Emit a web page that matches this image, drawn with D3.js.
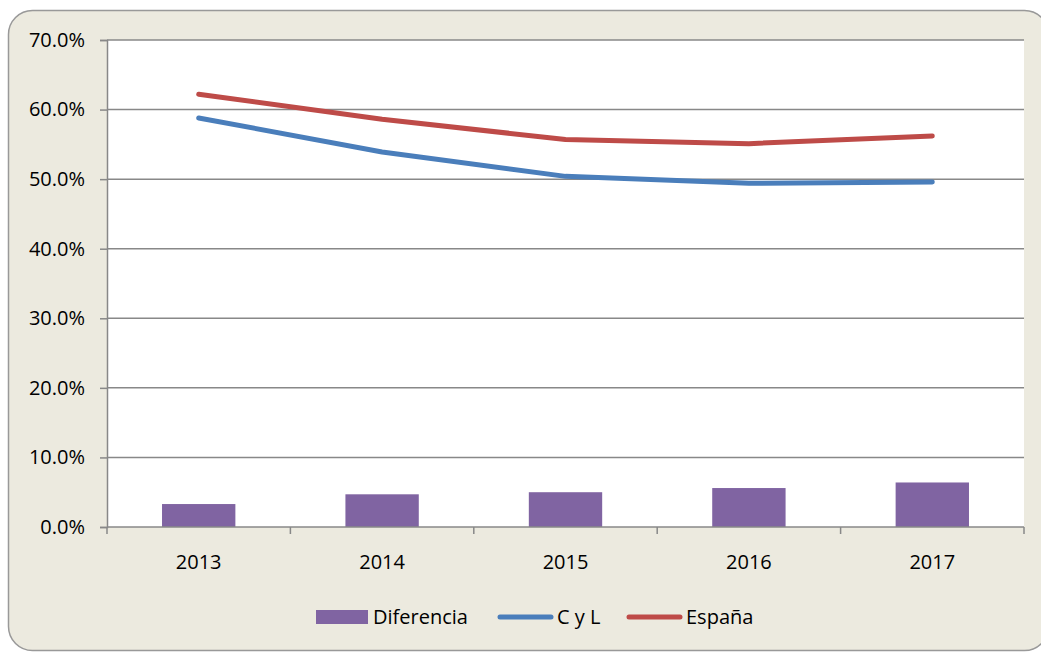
<!DOCTYPE html>
<html>
<head>
<meta charset="utf-8">
<script src="https://cdn.jsdelivr.net/npm/d3@7"></script>
<style>
    body { margin: 0; background: #fff; }
    svg text { font-family: 'Open Sans', sans-serif; font-weight: 400; fill: #000; }
</style>
</head>
<body>
<div id="chart"></div>
<script>
// data
const years = ['2013', '2014', '2015', '2016', '2017'];
const diferencia = [3.3, 4.7, 5.0, 5.6, 6.4];
const cyl = [58.8, 53.9, 50.4, 49.4, 49.6];
const espana = [62.2, 58.6, 55.7, 55.1, 56.2];
const yTicks = [0, 10, 20, 30, 40, 50, 60, 70];

const width = 1041, height = 652;
const margin = { top: 40, right: 17, bottom: 125, left: 107 };
const w = width - margin.left - margin.right;
const h = height - margin.top - margin.bottom;
const fs = '20px';

const svg = d3.select('#chart').append('svg')
    .attr('width', width)
    .attr('height', height);

// outer frame
svg.append('rect')
    .attr('x', 8.5).attr('y', 10.5)
    .attr('width', 1040).attr('height', 640)
    .attr('rx', 24)
    .attr('fill', '#ECEADF')
    .attr('stroke', '#999')
    .attr('stroke-width', 1.5);

const g = svg.append('g').attr('transform', `translate(${margin.left},${margin.top})`);

g.append('rect').attr('width', w).attr('height', h).attr('fill', '#fff');

const x = d3.scaleBand().domain(years).range([0, w]).paddingInner(0.6).paddingOuter(0.3);
const xc = d => x(d) + x.bandwidth() / 2;
const y = d3.scaleLinear().domain([0, 70]).range([h, 0]);

// gridlines
g.append('g')
    .selectAll('line')
    .data(yTicks.slice(1))
    .join('line')
    .attr('x1', 0).attr('x2', w)
    .attr('y1', d => y(d)).attr('y2', d => y(d))
    .attr('stroke', '#888')
    .attr('stroke-width', 1.5);

// y axis
const yAxis = d3.axisLeft(y).tickValues(yTicks).tickSize(7).tickPadding(15)
    .tickFormat(d => d.toFixed(1) + '%');
const ya = g.append('g').call(yAxis);
ya.attr('font-family', null).attr('font-size', null);
ya.select('.domain').attr('stroke', '#888').attr('stroke-width', 1.5);
ya.selectAll('.tick line').attr('stroke', '#888').attr('stroke-width', 1.5);
ya.selectAll('text').style('font-size', fs).attr('fill', '#000');

// bars
g.append('g')
    .selectAll('rect')
    .data(diferencia)
    .join('rect')
    .attr('x', (d, i) => x(years[i]))
    .attr('width', x.bandwidth())
    .attr('y', d => y(d))
    .attr('height', d => h - y(d))
    .attr('fill', '#8064A2');

// x axis with ticks at category boundaries
const step = w / years.length;
const xa = g.append('g').attr('transform', `translate(0,${h})`);
xa.append('line').attr('x1', 0).attr('x2', w).attr('stroke', '#888').attr('stroke-width', 1.5);
xa.selectAll('.bound')
    .data(d3.range(years.length + 1))
    .join('line')
    .attr('class', 'bound')
    .attr('x1', i => i * step).attr('x2', i => i * step)
    .attr('y1', 0).attr('y2', 7)
    .attr('stroke', '#888').attr('stroke-width', 1.5);
xa.selectAll('text')
    .data(years)
    .join('text')
    .attr('x', d => xc(d))
    .attr('y', 42)
    .attr('text-anchor', 'middle')
    .style('font-size', fs)
    .text(d => d);

// lines
const line = d3.line()
    .x((d, i) => xc(years[i]))
    .y(d => y(d));

[[cyl, '#4A7EBB'], [espana, '#BE4B48']].forEach(([vals, col]) => {
    g.append('path')
        .datum(vals)
        .attr('d', line)
        .attr('fill', 'none')
        .attr('stroke', col)
        .attr('stroke-width', 5)
        .attr('stroke-linecap', 'round')
        .attr('stroke-linejoin', 'round');
});

// legend
const legend = svg.append('g').attr('transform', 'translate(0,617)');
legend.append('rect').attr('x', 316).attr('y', -7).attr('width', 52).attr('height', 14).attr('fill', '#8064A2');
legend.append('text').attr('x', 373).attr('y', 7).style('font-size', fs).text('Diferencia');
legend.append('line').attr('x1', 500).attr('x2', 551).attr('stroke', '#4A7EBB')
    .attr('stroke-width', 5).attr('stroke-linecap', 'round');
legend.append('text').attr('x', 557).attr('y', 7).style('font-size', fs).text('C y L');
legend.append('line').attr('x1', 629).attr('x2', 680).attr('stroke', '#BE4B48')
    .attr('stroke-width', 5).attr('stroke-linecap', 'round');
legend.append('text').attr('x', 686).attr('y', 7).style('font-size', fs).text('España');
</script>
</body>
</html>
